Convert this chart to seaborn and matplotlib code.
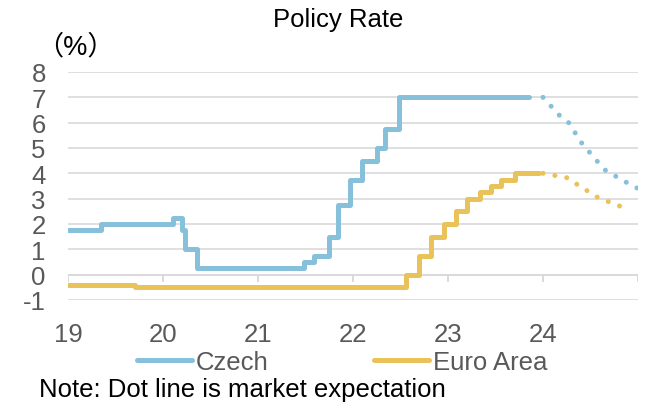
import matplotlib
matplotlib.use("Agg")
import matplotlib.pyplot as plt
import seaborn as sns
import pandas as pd

# ---- data (decimal years, e.g. 22.48 = mid-2022) ----
cz_x = [19.0, 19.35, 20.10, 20.20, 20.23, 20.36, 21.48, 21.59, 21.75, 21.84,
        21.97, 22.09, 22.25, 22.34, 22.48, 23.85]
cz_y = [1.75, 2.00, 2.25, 1.75, 1.00, 0.25, 0.50, 0.75, 1.50, 2.75,
        3.75, 4.50, 5.00, 5.75, 7.00, 7.00]

eu_x = [19.0, 19.71, 22.56, 22.69, 22.82, 22.96, 23.08, 23.20, 23.34, 23.45,
        23.56, 23.70, 23.96]
eu_y = [-0.40, -0.50, 0.00, 0.75, 1.50, 2.00, 2.50, 3.00, 3.25, 3.50,
        3.75, 4.00, 4.00]

# market expectation (dotted)
cz_fx = [24.0, 24.17, 24.27, 24.41, 24.57, 24.66, 24.88, 25.0]
cz_fy = [7.00, 6.30, 6.00, 5.18, 4.48, 4.11, 3.64, 3.40]
eu_fx = [24.0, 24.26, 24.36, 24.58, 24.82]
eu_fy = [4.00, 3.82, 3.56, 3.04, 2.69]

x_ticks = [19, 20, 21, 22, 23, 24]
y_ticks = [-1, 0, 1, 2, 3, 4, 5, 6, 7, 8]
series_names = ["Czech", "Euro Area"]
title = "Policy Rate"
unit = "（%）"
note = "Note: Dot line is market expectation"

# ---- style ----
sns.set_theme(style="white")
plt.rcParams["font.family"] = ["Liberation Sans", "DejaVu Sans"]
BLUE = "#86C0DB"
GOLD = "#EAC25A"
GRID = "#D9D9D9"
TXT = "#595959"
FS = 18.5

fig = plt.figure(figsize=(6.48, 4.06), dpi=100)
ax = fig.add_axes([68/648, 1-301/406, (638-68)/648, (301-73)/406])

df_cz = pd.DataFrame({"x": cz_x, "y": cz_y})
df_eu = pd.DataFrame({"x": eu_x, "y": eu_y})
df_czf = pd.DataFrame({"x": cz_fx, "y": cz_fy})
df_euf = pd.DataFrame({"x": eu_fx, "y": eu_fy})

LW = 3.6
sns.lineplot(data=df_cz, x="x", y="y", ax=ax, color=BLUE, lw=LW,
             drawstyle="steps-post", estimator=None, label=series_names[0],
             zorder=3)
sns.lineplot(data=df_eu, x="x", y="y", ax=ax, color=GOLD, lw=LW,
             drawstyle="steps-post", estimator=None, label=series_names[1],
             zorder=3)
for d, c in ((df_czf, BLUE), (df_euf, GOLD)):
    sns.lineplot(data=d, x="x", y="y", ax=ax, color=c, lw=LW,
                 estimator=None, zorder=3)
    ln = ax.lines[-1]
    ln.set_linestyle((0, (0.01, 2.4)))
    ln.set_dash_capstyle("round")

ax.set_xlim(19, 25)
ax.set_ylim(-1, 8)
ax.set_yticks(y_ticks)
ax.set_xticks(x_ticks)
ax.set_yticklabels([str(v) for v in y_ticks])
ax.set_xticklabels([str(v) for v in x_ticks])
for v in y_ticks:
    if v != 0:
        ax.axhline(v, color=GRID, lw=1.2, zorder=1)
# category axis at zero with tick marks
ax.axhline(0, color=GRID, lw=1.4, zorder=2)
ax.vlines(x_ticks + [25], -0.28, 0, color=GRID, lw=1.4, zorder=2)

for s in ax.spines.values():
    s.set_visible(False)
ax.tick_params(axis="both", length=0, labelsize=FS, labelcolor=TXT)
ax.tick_params(axis="y", pad=16)
ax.tick_params(axis="x", pad=16)
ax.set_xlabel("")
ax.set_ylabel("")
ax.grid(False)

leg = ax.get_legend()
if leg is not None:
    leg.remove()
handles, labels = ax.get_legend_handles_labels()
fig.legend(handles[:2], labels[:2], loc="center", ncol=2, frameon=False,
           bbox_to_anchor=(342/648, 1-363/406), fontsize=FS,
           handlelength=2.15, handletextpad=0.15, columnspacing=4.1,
           labelcolor=TXT, borderpad=0, borderaxespad=0)

fig.text(338/648, 1-20/406, title, ha="center", va="center", fontsize=FS,
         color="black")
fig.text(75.5/648, 1-47/406, unit, ha="center", va="center", fontsize=19.5,
         color="black", family=["Liberation Sans", "Noto Sans CJK JP"])
fig.text(39/648, 1-390/406, note, ha="left", va="center", fontsize=FS,
         color="black")

fig.savefig("out.png", dpi=100)
